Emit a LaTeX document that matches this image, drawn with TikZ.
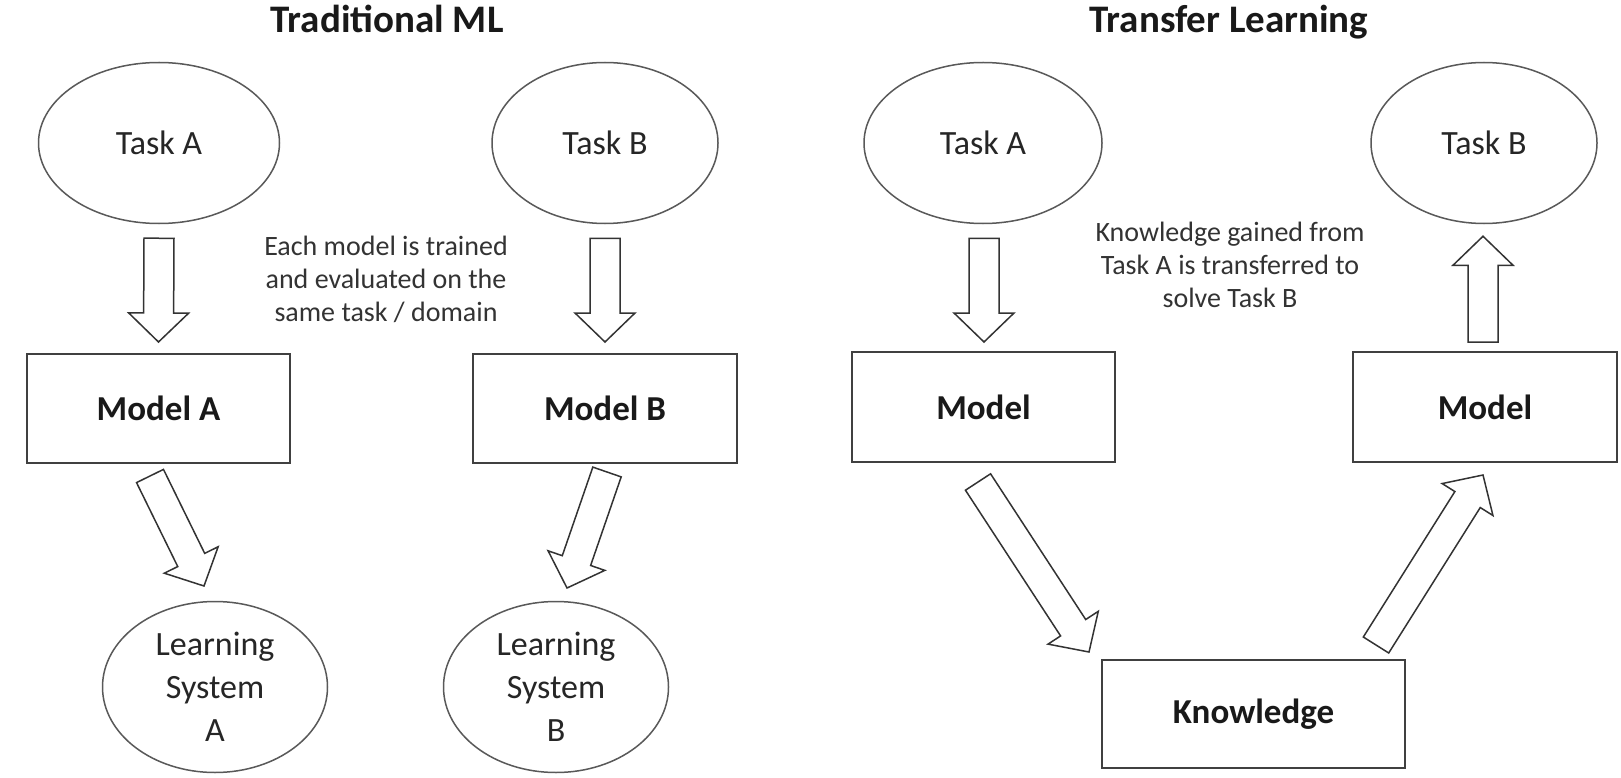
\documentclass[tikz,border=0pt]{standalone}
\usepackage{fontspec}
\setmainfont{Carlito}
\usetikzlibrary{calc,shapes.geometric}
\tikzset{
  ttl/.style={font=\fontsize{39}{45}\selectfont\bfseries, text=black!90, anchor=base, inner sep=0},
  task/.style={ellipse, draw=black!65, line width=1.5pt, inner sep=0, font=\fontsize{34}{43}\selectfont, text=black!85, align=center},
  mbox/.style={rectangle, draw=black!75, line width=2pt, inner sep=0, font=\fontsize{35}{42}\selectfont\bfseries, text=black!90},
  note/.style={font=\fontsize{28}{33}\selectfont, text=black!80, align=center, inner sep=0},
  barrow/.style={draw=black!80, line width=1.5pt, fill=white, line join=miter},
}
\newcommand\blockarr[2]{%
  \coordinate (#1h) at ($(#2)!29pt!(#1)$);
  \draw[barrow] ($(#1)!15pt!90:(#2)$) -- ($(#1h)!15pt!90:(#2)$) -- ($(#1h)!30pt!90:(#2)$)
    -- (#2) -- ($(#1h)!30pt!-90:(#2)$) -- ($(#1h)!15pt!-90:(#2)$) -- ($(#1)!15pt!-90:(#2)$) -- cycle;}
\begin{document}
\begin{tikzpicture}[x=1pt,y=-1pt]
\useasboundingbox[fill=white] (0,0) rectangle (1621,778);
% titles
\node[ttl] (title1) at (387,33) {Traditional ML};
\node[ttl] (title2) at (1229,33) {Transfer Learning};
% left: traditional ML
\node[task, minimum width=241, minimum height=161] (taskA1) at (159,143) {Task A};
\node[task, minimum width=226, minimum height=161] (taskB1) at (605,143) {Task B};
\node[mbox, minimum width=263, minimum height=109] (modelA) at (158.5,408.5) {Model A};
\node[mbox, minimum width=264, minimum height=109] (modelB) at (605,408.5) {Model B};
\node[task, minimum width=225, minimum height=171] (lsA) at (215,687) {Learning\\System\\A};
\node[task, minimum width=225, minimum height=171] (lsB) at (556,687) {Learning\\System\\B};
\node[note] (note1) at (386,279) {Each model is trained\\and evaluated on the\\same task / domain};
% right: transfer learning
\node[task, minimum width=238, minimum height=161] (taskA2) at (983,143) {Task A};
\node[task, minimum width=226, minimum height=161] (taskB2) at (1484,143) {Task B};
\node[mbox, minimum width=263, minimum height=110] (model2a) at (983.5,407) {Model};
\node[mbox, minimum width=264, minimum height=110] (model2b) at (1485,407) {Model};
\node[mbox, minimum width=303, minimum height=108] (know) at (1253.5,714) {Knowledge};
\node[note] (note2) at (1230,265) {Knowledge gained from\\Task A is transferred to\\solve Task B};
% arrow end points
\coordinate (a1t) at ($(taskA1.south)+(0,14)$);
\coordinate (a1h) at ($(modelA.north)+(0,-11)$);
\coordinate (a2t) at ($(taskB1.south)+(0,14)$);
\coordinate (a2h) at ($(modelB.north)+(0,-11)$);
\coordinate (a3t) at (150,476);
\coordinate (a3h) at (204,586);
\coordinate (a4t) at (607,472);
\coordinate (a4h) at (567,588);
\coordinate (a5t) at ($(taskA2.south)+(1,14)$);
\coordinate (a5h) at ($(model2a.north)+(0.5,-9)$);
\coordinate (a6t) at ($(model2b.north)+(-2,-9)$);
\coordinate (a6h) at ($(taskB2.south)+(-1,12)$);
\coordinate (a7t) at (978,482);
\coordinate (a7h) at (1089,652);
\coordinate (a8t) at (1376,645);
\coordinate (a8h) at (1483,475);
\blockarr{a1t}{a1h}
\blockarr{a2t}{a2h}
\blockarr{a3t}{a3h}
\blockarr{a4t}{a4h}
\blockarr{a5t}{a5h}
\blockarr{a6t}{a6h}
\blockarr{a7t}{a7h}
\blockarr{a8t}{a8h}
\end{tikzpicture}
\end{document}
